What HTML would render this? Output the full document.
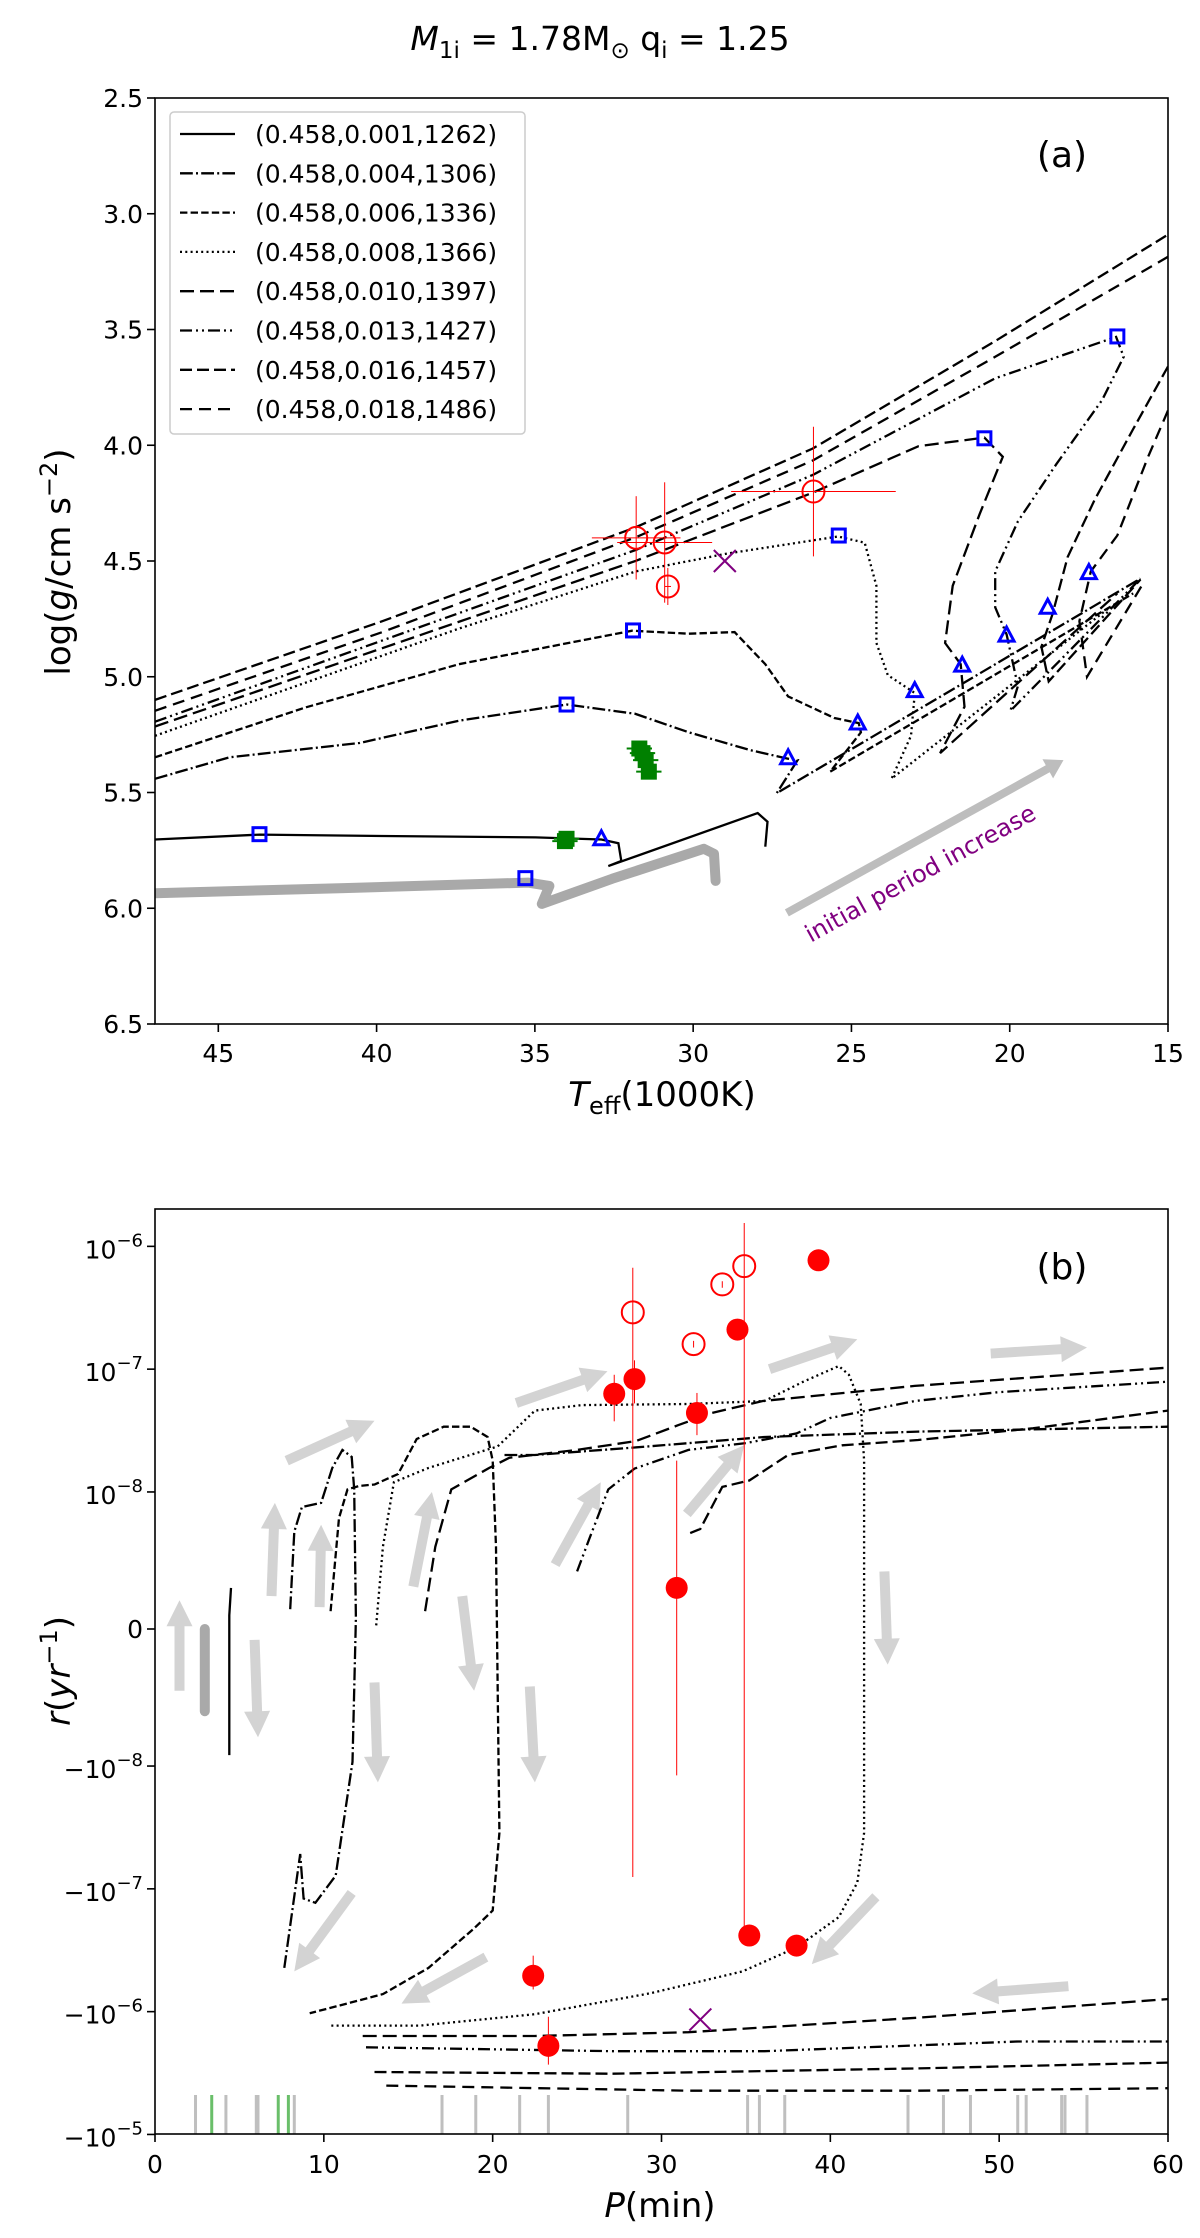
<!DOCTYPE html>
<html><head><meta charset="utf-8"><style>
html,body{margin:0;padding:0;background:#fff;}
svg{display:block;font-family:"DejaVu Sans","Liberation Sans",sans-serif;}
</style></head><body>
<svg id="fig" width="1200" height="2238" viewBox="0 0 1200 2238">
<text x="600" y="50" text-anchor="middle" font-size="33"><tspan font-style="italic">M</tspan><tspan font-size="23" dy="8">1i</tspan><tspan dy="-8"> = 1.78M</tspan><tspan font-size="23" dy="8">⊙</tspan><tspan dy="-8"> q</tspan><tspan font-size="23" dy="8">i</tspan><tspan dy="-8"> = 1.25</tspan></text>
<g id="pa"></g>
<g id="pb"></g>
</svg>
<script>
// ---------- Panel (a) data ----------
const aXTicks=[45,40,35,30,25,20,15];
const aYTicks=[2.5,3.0,3.5,4.0,4.5,5.0,5.5,6.0,6.5];
const legendLabels=["(0.458,0.001,1262)","(0.458,0.004,1306)","(0.458,0.006,1336)","(0.458,0.008,1366)","(0.458,0.010,1397)","(0.458,0.013,1427)","(0.458,0.016,1457)","(0.458,0.018,1486)"];
const a001=[[47,5.703],[43.69,5.682],[39.82,5.688],[34.98,5.694],[32.9,5.703],[32.36,5.719],[32.27,5.796],[32.68,5.818],[27.96,5.589],[27.65,5.626],[27.72,5.734]];
const aGray=[[47,5.935],[41.03,5.913],[35.22,5.889],[34.54,5.904],[34.78,5.981],[32.56,5.873],[29.66,5.743],[29.34,5.765],[29.29,5.882]];
const a004=[[47,5.441],[44.65,5.348],[40.54,5.286],[37.4,5.19],[33.99,5.12],[31.83,5.16],[30.14,5.24],[28.2,5.317],[27.0,5.354],[26.7,5.36],[27.36,5.503],[15.87,4.576]];
const a006=[[47,5.348],[42.23,5.132],[37.4,4.946],[31.93,4.801],[30.14,4.814],[28.69,4.807],[27.72,4.946],[27.0,5.085],[25.54,5.178],[24.77,5.2],[24.7,5.24],[25.67,5.41],[16.1,4.64]];
const a008=[[47,5.255],[37.4,4.792],[31.81,4.545],[28.93,4.468],[25.42,4.394],[24.58,4.421],[24.21,4.607],[24.21,4.854],[23.85,4.993],[23.0,5.07],[23.12,5.255],[23.73,5.44],[16.84,4.70]];
const a010=[[47,5.215],[31.81,4.499],[26.22,4.205],[22.88,4.004],[20.8,3.967],[20.22,4.05],[20.95,4.298],[21.8,4.607],[22.04,4.854],[21.55,4.946],[21.43,5.13],[22.2,5.33],[16.6,4.64]];
const a013=[[47,5.194],[31.81,4.452],[26.22,4.128],[20.46,3.711],[16.64,3.532],[16.4,3.618],[17.08,3.804],[18.53,4.082],[19.74,4.329],[20.46,4.545],[20.46,4.70],[20.1,4.817],[19.74,5.04],[19.98,5.147],[15.87,4.576]];
const a016=[[47,5.10],[39.82,4.76],[31.81,4.354],[26.22,4.014],[20.46,3.55],[15,3.09],null,[15,3.66],[16.1,3.93],[17.32,4.236],[18.17,4.483],[18.65,4.73],[19.0,4.87],[18.77,5.02],[15.87,4.58]];
const a018=[[47,5.147],[39.82,4.807],[31.81,4.397],[26.22,4.066],[20.46,3.618],[15,3.186],null,[15,3.85],[15.63,4.05],[16.6,4.39],[17.44,4.545],[17.8,4.76],[17.56,5.0],[15.8,4.6]];
const sqT=[43.7,34.0,31.9,25.4,20.8,16.6,35.3];
const sqG=[5.68,5.12,4.80,4.39,3.97,3.53,5.87];
const triT=[32.9,27.0,24.8,23.0,21.5,20.1,18.8,17.5];
const triG=[5.70,5.35,5.20,5.06,4.95,4.82,4.70,4.55];
const obsT=[31.8,30.9,30.8,26.2];
const obsG=[4.40,4.42,4.61,4.20];
const obsTerr=[1.4,1.5,0.1,2.6];
const obsGerr=[0.18,0.26,0.08,0.28];
const greenT=[31.7,31.6,31.5,31.4,34.0,34.05];
const greenG=[5.31,5.33,5.36,5.41,5.70,5.71];
const xMarkA=[29.0,4.50];

// ---------- Panel (b) data ----------
const bXTicks=[0,10,20,30,40,50,60];
const bYTicks=[1e-6,1e-7,1e-8,0,-1e-8,-1e-7,-1e-6,-1e-5];
const bYTickLabels=[["10","−6"],["10","−7"],["10","−8"],["0",""],["−10","−8"],["−10","−7"],["−10","−6"],["−10","−5"]];
const b001=[[4.5,3e-9],[4.4,1e-9],[4.4,-9.2e-9]];
const bGray=[[2.95,0],[2.95,-6e-9]];
const b004=[[7.66,-4.4e-7],[8.6,-5.2e-8],[8.8,-1.2e-7],[9.5,-1.3e-7],[10.7,-7.8e-8],[11.7,-9.7e-9],[11.9,7.9e-10],[11.8,1.05e-8],[11.65,1.93e-8],[11.1,2.2e-8],[10.5,1.57e-8],[9.84,9.2e-9],[8.7,8.9e-9],[8.25,7.1e-9],[8.0,1.3e-9]];
const b006=[[10.4,1.3e-9],[10.9,8.1e-9],[11.4,1.05e-8],[12.1,1.12e-8],[13.0,1.15e-8],[14.4,1.4e-8],[15.5,2.7e-8],[17.1,3.4e-8],[18.7,3.4e-8],[19.7,2.8e-8],[20.0,1.8e-8],[20.2,6e-9],[20.3,-4.5e-9],[20.4,-3.5e-8],[20.0,-1.5e-7],[18.9,-2.1e-7],[16.2,-4.4e-7],[13.5,-7.2e-7],[10.3,-9.4e-7],[9.16,-1.03e-6]];
const b008=[[13.1,2.6e-10],[13.5,6e-9],[14.15,1.2e-8],[16.2,1.57e-8],[20.3,2.35e-8],[22.5,4.6e-8],[25.3,5.1e-8],[31.6,5.2e-8],[36.1,5.5e-8],[38.4,7.9e-8],[40.5,1.06e-7],[41.1,9e-8],[41.8,5.2e-8],[42.0,1.8e-8],[42.0,8.6e-9],[42.0,-9.7e-9],[42.0,-3.5e-8],[41.6,-8.9e-8],[40.5,-1.7e-7],[38.0,-3e-7],[34.8,-4.7e-7],[29.3,-7.1e-7],[22.5,-1.05e-6],[15.7,-1.3e-6],[10.3,-1.3e-6]];
const b010=[[16.0,1.3e-9],[16.6,6e-9],[17.55,1.05e-8],[19.8,1.57e-8],[21,1.9e-8],[25,2.2e-8],[28.5,2.6e-8],[31,3.5e-8],[33,4.4e-8],[36,5.5e-8],[45,7.3e-8],[60,1.03e-7]];
const b013=[[25.0,4.2e-9],[25.7,6.5e-9],[26.85,1.05e-8],[28.4,1.55e-8],[31.6,2.2e-8],[35,2.5e-8],[38,3e-8],[40,4e-8],[45,5.5e-8],[50,6.5e-8],[60,7.9e-8]];
const b016=[[31.7,7e-9],[32.3,7.3e-9],[33.6,1.1e-8],[35.2,1.24e-8],[37.5,2.0e-8],[40.7,2.4e-8],[45.2,2.65e-8],[52,3.3e-8],[60,4.6e-8]];
const b018=[[20.7,2.0e-8],[22.5,2.0e-8],[28.4,2.3e-8],[36.1,2.8e-8],[45.2,3.1e-8],[60,3.4e-8]];
const bl1=[[12.3,-1.58e-6],[22.5,-1.58e-6],[31.6,-1.47e-6],[45.2,-1.12e-6],[60,-7.9e-7]];
const bl2=[[12.5,-1.95e-6],[27.1,-2.1e-6],[36.1,-2.1e-6],[51.1,-1.75e-6],[60,-1.75e-6]];
const bl3=[[13.0,-3.1e-6],[27.1,-3.2e-6],[45.2,-2.9e-6],[60,-2.6e-6]];
const bl4=[[13.7,-4.0e-6],[31.6,-4.4e-6],[45.2,-4.4e-6],[60,-4.2e-6]];
const filledP=[27.2,28.4,32.1,34.5,39.3,30.9,35.2,38.0,22.4,23.3];
const filledR=[6.3e-8,8.3e-8,4.4e-8,2.1e-7,7.7e-7,3e-9,-2.4e-7,-2.9e-7,-5.1e-7,-1.9e-6];
const filledHi=[9e-8,1.18e-7,6.4e-8,null,null,1.8e-8,null,null,-3.5e-7,-1.1e-6];
const filledLo=[3.76e-8,5.26e-8,2.9e-8,null,null,-1.19e-8,null,null,-6.6e-7,-2.7e-6];
const openP=[28.3,31.9,33.6,34.9];
const openR=[2.9e-7,1.6e-7,4.9e-7,6.9e-7];
const openHi=[6.7e-7,1.7e-7,5.2e-7,1.55e-6];
const openLo=[-8e-8,1.5e-7,4.6e-7,-2.4e-7];
const xMarkB=[32.3,-1.16e-6];
const rugGray=[2.4,4.2,6.0,6.1,8.25,17.0,19.0,21.6,23.3,28.0,35.1,35.8,37.3,44.6,46.7,48.3,51.1,51.6,53.7,53.9,55.2];
const rugGreen=[3.36,7.3,7.9];
const bArrows=[[7.8,1.8e-8,13.0,3.8e-8],[21.4,5.3e-8,26.8,9.6e-8],[36.4,1e-7,41.6,1.75e-7],[49.5,1.34e-7,55.2,1.5e-7],[6.9,2.4e-9,7.1,9.2e-9],[1.45,-4.5e-9,1.45,2.1e-9],[9.75,1.6e-9,9.84,7.6e-9],[15.3,3.1e-9,16.4,1e-8],[23.7,4.7e-9,26.4,1.2e-8],[31.5,8.4e-9,34.9,2.4e-8],[5.9,-7.9e-10,6.1,-7.9e-9],[18.2,2.4e-9,18.9,-4.5e-9],[13.0,-3.9e-9,13.2,-1.36e-8],[22.2,-4.2e-9,22.5,-1.36e-8],[43.2,4.2e-9,43.4,-2.6e-9],[11.65,-1.08e-7,8.25,-4.7e-7],[19.6,-3.6e-7,14.6,-8.6e-7],[42.7,-1.16e-7,38.9,-4.1e-7],[54.1,-6.2e-7,48.4,-7.1e-7]];

// ---------- helpers ----------
const NS='http://www.w3.org/2000/svg';
function mk(tag,attrs,parent){const e=document.createElementNS(NS,tag);for(const k in attrs)e.setAttribute(k,attrs[k]);parent.appendChild(e);return e;}
const styles={
 s001:{da:'none'}, s004:{da:'12.8,3.2,2,3.2'}, s006:{da:'7.4,3.2'}, s008:{da:'2,3.3'},
 s010:{da:'14,6'}, s013:{da:'12,4,2,4,2,4'}, s016:{da:'12,5'}, s018:{da:'12,7'}
};
const styleKeys=['s001','s004','s006','s008','s010','s013','s016','s018'];
const LW=2.3;

// ---------- Panel (a) ----------
const A={x0:155,x1:1168,y0:98,y1:1024};
function xA(T){return A.x0+(47-T)/32*(A.x1-A.x0);}
function yA(g){return A.y0+(g-2.5)/4*(A.y1-A.y0);}
const pa=document.getElementById('pa');
function pathFrom(pts,fx,fy){let d='',pen=false;for(const p of pts){if(p===null){pen=false;continue;}d+=(pen?'L':'M')+fx(p[0]).toFixed(1)+','+fy(p[1]).toFixed(1);pen=true;}return d;}
function clipRect(id,box,parent){const cp=mk('clipPath',{id:id},parent);mk('rect',{x:box.x0,y:box.y0,width:box.x1-box.x0,height:box.y1-box.y0},cp);}
clipRect('ca',A,pa);
const ga=mk('g',{'clip-path':'url(#ca)'},pa);



let e=mk('path',{d:pathFrom(aGray,xA,yA),fill:'none',stroke:'#a9a9a9','stroke-width':10,'stroke-linecap':'round','stroke-linejoin':'round'},ga);


const aTracks=[a001,a004,a006,a008,a010,a013,a016,a018];
aTracks.forEach((t,i)=>{
 const el=mk('path',{d:pathFrom(t,xA,yA),fill:'none',stroke:'#000','stroke-width':LW,'stroke-dasharray':styles[styleKeys[i]].da},ga);
 
 
});
function arrow(x1,y1,x2,y2,parent,color,w,hw,hl){
 const dx=x2-x1,dy=y2-y1,L=Math.hypot(dx,dy),ux=dx/L,uy=dy/L,nx=-uy,ny=ux;
 const bx=x2-ux*hl,by=y2-uy*hl;
 const pts=[[x1+nx*w,y1+ny*w],[bx+nx*w,by+ny*w],[bx+nx*hw,by+ny*hw],[x2,y2],[bx-nx*hw,by-ny*hw],[bx-nx*w,by-ny*w],[x1-nx*w,y1-ny*w]];
 return mk('polygon',{points:pts.map(p=>p[0].toFixed(1)+','+p[1].toFixed(1)).join(' '),fill:color},parent);
}
e=arrow(xA(27.04),yA(6.02),xA(18.3),yA(5.36),ga,'#bdbdbd',4,11,18);


e=mk('text',{x:0,y:0,'font-size':24,fill:'#800080','text-anchor':'middle',transform:`translate(${xA(22.7)},${yA(5.88)}) rotate(-28.8)`},ga);
e.textContent='initial period increase';


obsT.forEach((t,i)=>{
 const g=mk('g',{},ga);
 
 
 mk('line',{x1:xA(t-obsTerr[i]),x2:xA(t+obsTerr[i]),y1:yA(obsG[i]),y2:yA(obsG[i]),stroke:'#ff0000','stroke-width':1},g);
 mk('line',{x1:xA(t),x2:xA(t),y1:yA(obsG[i]-obsGerr[i]),y2:yA(obsG[i]+obsGerr[i]),stroke:'#ff0000','stroke-width':1},g);
 mk('circle',{cx:xA(t),cy:yA(obsG[i]),r:11,fill:'none',stroke:'#ff0000','stroke-width':2},g);
});
greenT.forEach((t,i)=>{
 const g=mk('g',{},ga);
 
 
 mk('line',{x1:xA(t+0.4),x2:xA(t-0.4),y1:yA(greenG[i]),y2:yA(greenG[i]),stroke:'#008000','stroke-width':2},g);
 mk('line',{x1:xA(t),x2:xA(t),y1:yA(greenG[i]-0.03),y2:yA(greenG[i]+0.03),stroke:'#008000','stroke-width':2},g);
 mk('rect',{x:xA(t)-8,y:yA(greenG[i])-8,width:16,height:16,fill:'#008000'},g);
});
sqT.forEach((t,i)=>{
 e=mk('rect',{x:xA(t)-6.5,y:yA(sqG[i])-6.5,width:13,height:13,fill:'none',stroke:'#0000ff','stroke-width':3},ga);
 
 
});
triT.forEach((t,i)=>{
 const x=xA(t),y=yA(triG[i]);
 e=mk('polygon',{points:`${x},${y-8} ${x-7.5},${y+6} ${x+7.5},${y+6}`,fill:'none',stroke:'#0000ff','stroke-width':3},ga);
 
 
});
e=mk('path',{d:`M${xA(xMarkA[0])-11},${yA(xMarkA[1])-11}L${xA(xMarkA[0])+11},${yA(xMarkA[1])+11}M${xA(xMarkA[0])-11},${yA(xMarkA[1])+11}L${xA(xMarkA[0])+11},${yA(xMarkA[1])-11}`,stroke:'#800080','stroke-width':2},ga);



e=mk('rect',{x:A.x0,y:A.y0,width:A.x1-A.x0,height:A.y1-A.y0,fill:'none',stroke:'#000','stroke-width':1.6},pa);


aXTicks.forEach(v=>{
 mk('line',{x1:xA(v),x2:xA(v),y1:A.y1,y2:A.y1+8,stroke:'#000','stroke-width':1.6},pa);
 e=mk('text',{x:xA(v),y:A.y1+38,'font-size':25,'text-anchor':'middle'},pa);
 e.textContent=String(v);
 
 
});
aYTicks.forEach(v=>{
 mk('line',{x1:A.x0-8,x2:A.x0,y1:yA(v),y2:yA(v),stroke:'#000','stroke-width':1.6},pa);
 e=mk('text',{x:A.x0-12,y:yA(v)+9,'font-size':25,'text-anchor':'end'},pa);
 e.textContent=v.toFixed(1);
 
 
});
e=mk('text',{x:662,y:1106,'font-size':34,'text-anchor':'middle'},pa);
e.innerHTML='<tspan font-style="italic">T</tspan><tspan font-size="24" dy="8">eff</tspan><tspan dy="-8">(1000K)</tspan>';


e=mk('text',{x:0,y:0,'font-size':34,'text-anchor':'middle',transform:'translate(70,562) rotate(-90)'},pa);
e.innerHTML='log(<tspan font-style="italic">g</tspan>/cm s<tspan font-size="24" dy="-13">−2</tspan><tspan dy="13">)</tspan>';


e=mk('text',{x:1062,y:167,'font-size':36,'text-anchor':'middle'},pa);
e.textContent='(a)';


const lg=mk('g',{},pa);


mk('rect',{x:170,y:112,width:355,height:322,rx:4,fill:'#fff','fill-opacity':0.85,stroke:'#cccccc','stroke-width':1.5},lg);
legendLabels.forEach((lab,i)=>{
 const y=134+i*39.3;
 const g=mk('g',{},lg);
 
 
 mk('line',{x1:180,x2:235,y1:y,y2:y,stroke:'#000','stroke-width':LW,'stroke-dasharray':styles[styleKeys[i]].da},g);
 const t=mk('text',{x:255,y:y+9,'font-size':25},g);
 t.textContent=lab;
});

// ---------- Panel (b) ----------
const B={x0:155,x1:1168,y0:1209,y1:2134};
const LS=1.116, DEC=122.8, Y0=1629;
function xB(P){return B.x0+P/60*(B.x1-B.x0);}
function yB(v){const a=Math.abs(v);let u;if(a>=1e-8)u=Math.sign(v)*(LS+Math.log10(a/1e-8));else u=v/1e-8*LS;return Y0-u*DEC;}
const pb=document.getElementById('pb');
clipRect('cb',B,pb);
const gb=mk('g',{'clip-path':'url(#cb)'},pb);


bArrows.forEach(a=>{
 e=arrow(xB(a[0]),yB(a[1]),xB(a[2]),yB(a[3]),gb,'#d3d3d3',5,13,26);
 
 
});
rugGray.forEach(p=>{
 e=mk('line',{x1:xB(p),x2:xB(p),y1:2095,y2:2134,stroke:'#bfbfbf','stroke-width':3},gb);
 
 
});
rugGreen.forEach(p=>{
 e=mk('line',{x1:xB(p),x2:xB(p),y1:2095,y2:2134,stroke:'#6abf6a','stroke-width':3},gb);
 
 
});
e=mk('path',{d:pathFrom(bGray,xB,yB),fill:'none',stroke:'#a9a9a9','stroke-width':10,'stroke-linecap':'round'},gb);


const bTracks=[[b001,'s001'],[b004,'s004'],[b006,'s006'],[b008,'s008'],[b010,'s010'],[b013,'s013'],[b016,'s016'],[b018,'s004'],[bl1,'s010'],[bl2,'s013'],[bl3,'s016'],[bl4,'s018']];
bTracks.forEach(([t,s])=>{
 e=mk('path',{d:pathFrom(t,xB,yB),fill:'none',stroke:'#000','stroke-width':LW,'stroke-dasharray':styles[s].da},gb);
 
 
});
openP.forEach((p,i)=>{
 const g=mk('g',{},gb);
 
 
 mk('line',{x1:xB(p),x2:xB(p),y1:yB(openHi[i]),y2:yB(openLo[i]),stroke:'#ff0000','stroke-width':1},g);
 mk('circle',{cx:xB(p),cy:yB(openR[i]),r:11,fill:'none',stroke:'#ff0000','stroke-width':2},g);
});
filledP.forEach((p,i)=>{
 const g=mk('g',{},gb);
 
 
 if(filledHi[i]!==null)mk('line',{x1:xB(p),x2:xB(p),y1:yB(filledHi[i]),y2:yB(filledLo[i]),stroke:'#ff0000','stroke-width':1},g);
 mk('circle',{cx:xB(p),cy:yB(filledR[i]),r:11,fill:'#ff0000'},g);
});
e=mk('path',{d:`M${xB(xMarkB[0])-11},${yB(xMarkB[1])-11}L${xB(xMarkB[0])+11},${yB(xMarkB[1])+11}M${xB(xMarkB[0])-11},${yB(xMarkB[1])+11}L${xB(xMarkB[0])+11},${yB(xMarkB[1])-11}`,stroke:'#800080','stroke-width':2},gb);



e=mk('rect',{x:B.x0,y:B.y0,width:B.x1-B.x0,height:B.y1-B.y0,fill:'none',stroke:'#000','stroke-width':1.6},pb);


bXTicks.forEach(v=>{
 mk('line',{x1:xB(v),x2:xB(v),y1:B.y1,y2:B.y1+8,stroke:'#000','stroke-width':1.6},pb);
 e=mk('text',{x:xB(v),y:B.y1+39,'font-size':25,'text-anchor':'middle'},pb);
 e.textContent=String(v);
 
 
});
bYTicks.forEach((v,i)=>{
 const y=yB(v);
 mk('line',{x1:B.x0-8,x2:B.x0,y1:y,y2:y,stroke:'#000','stroke-width':1.6},pb);
 const lab=bYTickLabels[i];
 e=mk('text',{x:B.x0-12,y:y+(lab[1]?12:9),'font-size':25,'text-anchor':'end'},pb);
 if(lab[1])e.innerHTML=lab[0]+'<tspan font-size="18" dy="-12">'+lab[1]+'</tspan>';
 else e.textContent=lab[0];
 
 
});
e=mk('text',{x:660,y:2217,'font-size':34,'text-anchor':'middle'},pb);
e.innerHTML='<tspan font-style="italic">P</tspan>(min)';


e=mk('text',{x:0,y:0,'font-size':34,'text-anchor':'middle',transform:'translate(70,1671) rotate(-90)'},pb);
e.innerHTML='<tspan font-style="italic">r</tspan>(<tspan font-style="italic">yr</tspan><tspan font-size="24" dy="-13">−1</tspan><tspan dy="13">)</tspan>';


e=mk('text',{x:1062,y:1279,'font-size':36,'text-anchor':'middle'},pb);
e.textContent='(b)';


</script>
</body></html>
